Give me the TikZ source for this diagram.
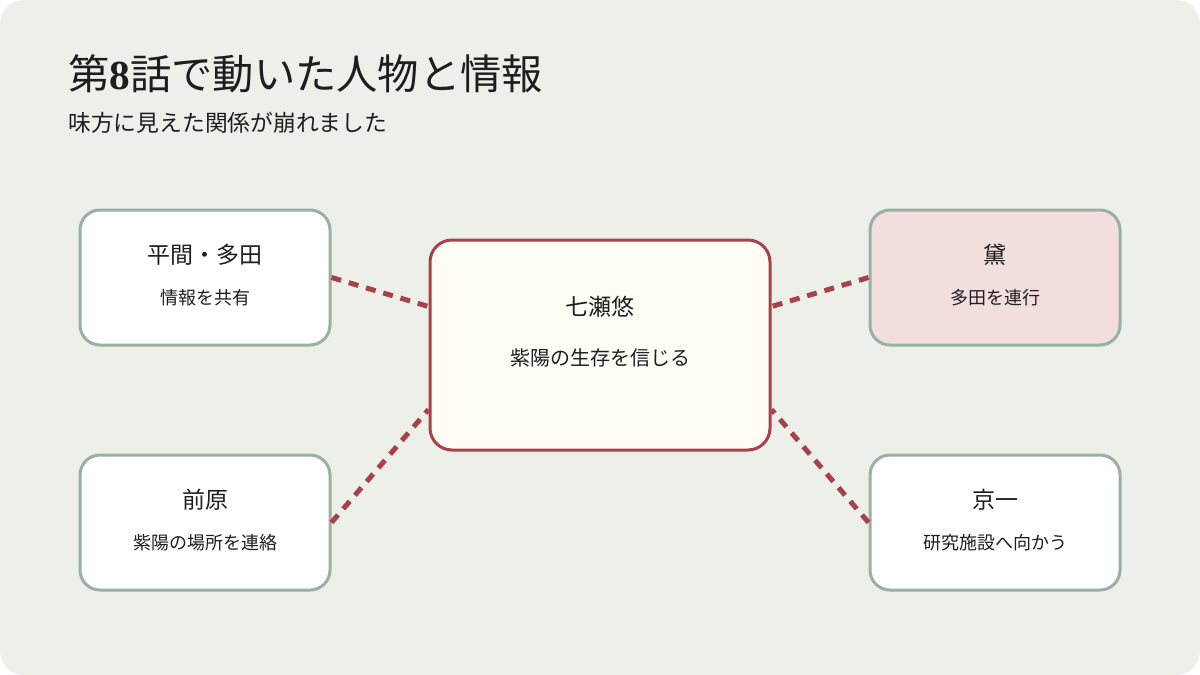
\documentclass[tikz,border=0pt]{standalone}
\usepackage{fontspec}
\setmainfont{Noto Sans CJK JP}
\newfontfamily\serifdigit{Liberation Serif}
\usetikzlibrary{calc}
\definecolor{bgc}{HTML}{EDF0E9}
\definecolor{boxline}{HTML}{9AAFA5}
\definecolor{redline}{HTML}{A8424A}
\definecolor{centerfill}{HTML}{FFFDF6}
\definecolor{pinkfill}{HTML}{F3DEDE}
\definecolor{txt}{HTML}{1E1E1E}
\tikzset{
  x=1pt,y=-1pt,
  sidebox/.style={draw=boxline,line width=3pt,fill=white,rounded corners=20pt,minimum width=250pt,minimum height=135pt,inner sep=0pt},
  centerbox/.style={draw=redline,line width=3pt,fill=centerfill,rounded corners=22pt,minimum width=340pt,minimum height=210pt,inner sep=0pt},
  boxtitle/.style={inner sep=0pt,text=txt,font=\fontsize{23}{27}\selectfont},
  boxsub/.style={inner sep=0pt,text=txt,font=\fontsize{18}{21}\selectfont},
  link/.style={draw=redline,line width=5pt,dash pattern=on 10pt off 8pt},
}
\begin{document}
\begin{tikzpicture}
\useasboundingbox (0,0) rectangle (1200,675);
\fill[white] (0,0) rectangle (1200,675);
\fill[bgc,rounded corners=24pt] (0,0) rectangle (1200,675);
% title
\node[anchor=base west,inner sep=0pt,text=txt,font=\fontsize{41.3}{49}\selectfont] (title) at (68,89) {第{\serifdigit\bfseries 8}話で動いた人物と情報};
\node[anchor=base west,inner sep=0pt,text=txt,font=\fontsize{22.8}{27}\selectfont] (subtitle) at (68,131) {味方に見えた関係が崩れました};
% boxes
\node[sidebox] (hd) at (205,277.5) {};
\node[sidebox] (mh) at (205,522.5) {};
\node[sidebox,fill=pinkfill] (ma) at (995,277.5) {};
\node[sidebox] (ky) at (995,522.5) {};
\node[centerbox] (c) at (600,345) {};
% connectors
\draw[link] (hd.east) -- ($(c.north west)+(0,68)$);
\draw[link] (ma.west) -- ($(c.north east)+(0,68)$);
\draw[link] (mh.east) -- ($(c.south west)+(0,-42)$);
\draw[link] (ky.west) -- ($(c.south east)+(0,-42)$);
% texts
\node[boxtitle] (hdt) at (205,255) {平間・多田};
\node[boxsub] (hds) at (205,298) {情報を共有};
\node[boxtitle] (mht) at (205,500) {前原};
\node[boxsub] (mhs) at (205,543) {紫陽の場所を連絡};
\node[boxtitle] (mat) at (995,255) {黛};
\node[boxsub] (mas) at (995,298) {多田を連行};
\node[boxtitle] (kyt) at (995,500) {京一};
\node[boxsub] (kys) at (995,543) {研究施設へ向かう};
\node[boxtitle] (ct) at (600,307) {七瀬悠};
\node[boxsub,font=\fontsize{20}{23}\selectfont] (cs) at (600,358) {紫陽の生存を信じる};
\end{tikzpicture}
\end{document}
